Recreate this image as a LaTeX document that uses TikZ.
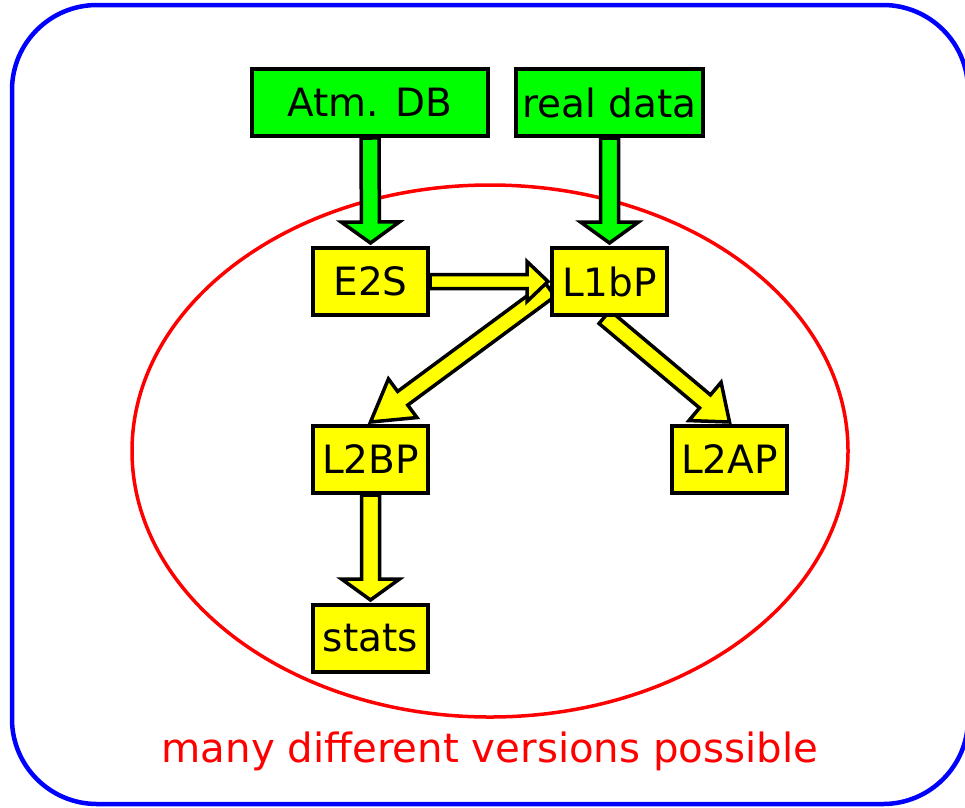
\documentclass[tikz,border=0pt]{standalone}
\usepackage{fontspec}
\setmainfont{DejaVu Sans}
\usetikzlibrary{calc,backgrounds}
\definecolor{pgreen}{RGB}{0,255,0}
\definecolor{pyellow}{RGB}{255,255,0}
\definecolor{pred}{RGB}{255,0,0}
\definecolor{pblue}{RGB}{0,0,255}
\newcommand{\blockarr}[6]{%
  \coordinate (bah) at ($(#2)!#6!(#1)$);
  \filldraw[arrbody, fill=#3]
    ($(#1)!#4!90:(#2)$) -- ($(bah)!#4!90:(#2)$) -- ($(bah)!#5!90:(#2)$) -- (#2)
    -- ($(bah)!#5!-90:(#2)$) -- ($(bah)!#4!-90:(#2)$) -- ($(#1)!#4!-90:(#2)$) -- cycle;
}
\tikzset{
  arrbody/.style={draw=black, line width=3.5pt, line join=miter},
  gbox/.style={draw=black, fill=pgreen, line width=4pt, minimum height=67pt, inner sep=0pt,
    font=\fontsize{39}{47}\selectfont},
  ybox/.style={draw=black, fill=pyellow, line width=4pt, minimum width=115pt, minimum height=67pt, inner sep=0pt,
    font=\fontsize{39}{47}\selectfont},
}
\begin{document}
\begin{tikzpicture}[x=1pt,y=-1pt]
\useasboundingbox (0,0) rectangle (965,807);
\clip (0,0) rectangle (965,807);
% boxes
\node[gbox, minimum width=236pt] (atm) at (370,102.5) {Atm. DB};
\node[gbox, minimum width=187pt] (real) at (609.5,102.5) {real data};
\node[ybox] (e2s) at (370.5,281.5) {E2S};
\node[ybox] (l1bp) at (609.5,281.5) {L1bP};
\node[ybox] (l2bp) at (370.5,459.5) {L2BP};
\node[ybox] (l2ap) at (729.5,459.5) {L2AP};
\node[ybox] (stats) at (370.5,638.5) {stats};
\node[text=pred, anchor=base, font=\fontsize{40.3}{48}\selectfont] (cap) at (490,762) {many different versions possible};
\begin{scope}[on background layer]
\draw[pblue, line width=4.5pt, rounded corners=85pt] (12,5) rectangle (968,804);
\draw[pred, line width=3.5pt] (490,451) ellipse [x radius=358pt, y radius=266pt];
% arrows
\coordinate (atmS) at (atm.south);
\coordinate (e2sN) at ([yshift=3pt]e2s.north);
\blockarr{atmS}{e2sN}{pgreen}{9pt}{29pt}{21pt}
\coordinate (realS) at (real.south);
\coordinate (l1bpN) at ([yshift=3pt]l1bp.north);
\blockarr{realS}{l1bpN}{pgreen}{9pt}{29pt}{21pt}
\coordinate (l1bpW) at ([yshift=-8pt]l1bp.west);
\coordinate (l2bpN) at ([yshift=2pt]l2bp.north);
\blockarr{l1bpW}{l2bpN}{pyellow}{8.5pt}{24pt}{40pt}
\coordinate (l1bpS) at ([xshift=-5pt]l1bp.south);
\coordinate (l2apN) at ([yshift=2pt]l2ap.north);
\blockarr{l1bpS}{l2apN}{pyellow}{8.5pt}{25pt}{32pt}
\coordinate (e2sE) at (e2s.east);
\coordinate (l1bpWc) at ([xshift=-2pt]l1bp.west);
\blockarr{e2sE}{l1bpWc}{pyellow}{7pt}{20pt}{21pt}
\coordinate (l2bpS) at (l2bp.south);
\coordinate (statsN) at ([yshift=3pt]stats.north);
\blockarr{l2bpS}{statsN}{pyellow}{9pt}{29pt}{21pt}
\end{scope}
\end{tikzpicture}
\end{document}
